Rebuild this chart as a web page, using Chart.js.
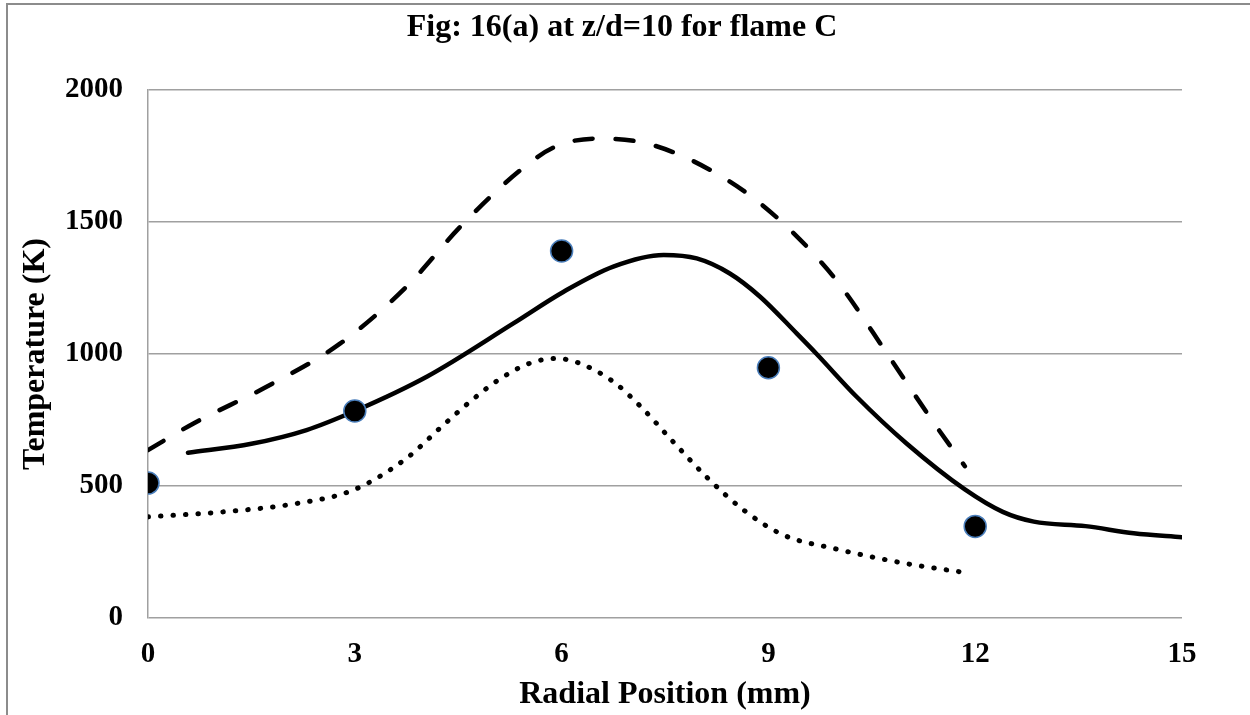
<!DOCTYPE html>
<html><head><meta charset="utf-8">
<script src="https://cdn.jsdelivr.net/npm/chart.js@4.4.0/dist/chart.umd.min.js"></script>
<style>
html,body{margin:0;padding:0;width:1250px;height:715px;overflow:hidden;background:#fff}
#frame{position:absolute;left:6px;top:3px;width:1400px;height:900px;border:2px solid #8c8c8c;box-sizing:border-box}
#wrap{position:absolute;left:0;top:0;width:1250px;height:715px}
</style></head><body>
<div id="frame"></div>
<div id="wrap"><canvas id="c" width="1250" height="715"></canvas></div>
<script>
const chartTitle = 'Fig: 16(a) at z/d=10 for flame C';
const xAxisTitle = 'Radial Position (mm)';
const yAxisTitle = 'Temperature (K)';
const xTicks = [0, 3, 6, 9, 12, 15];
const yTicks = [0, 500, 1000, 1500, 2000];

// experimental points
const expX = [0, 3, 6, 9, 12];
const expY = [511, 784, 1390, 948, 347];

// solid curve
const solidX = [0.58, 1.5, 2.3, 3, 4.05, 5.3, 6.03, 6.75, 7.48, 7.96, 8.44, 8.88, 9.41, 9.7, 10.28, 11, 11.85, 12.4, 12.85, 13.6, 14.3, 15];
const solidY = [626, 660, 712, 784, 915, 1116, 1236, 1331, 1375, 1362, 1305, 1217, 1078, 1000, 838, 662, 487, 402, 365, 348, 321, 306];

// dashed curve
const dashX = [0, 0.66, 1.72, 2.79, 3.75, 4.53, 5.4, 5.9, 6.5, 7.14, 7.67, 8.25, 8.73, 9.22, 9.65, 10.04, 10.72, 11.39, 11.85];
const dashY = [636, 737, 876, 1040, 1255, 1482, 1696, 1784, 1816, 1803, 1759, 1683, 1601, 1494, 1381, 1261, 1002, 743, 575];

// dotted curve
const dotX = [0, 1.09, 2.16, 2.98, 3.75, 4.26, 4.67, 5.08, 5.56, 5.93, 6.27, 6.75, 7.14, 7.62, 8.1, 8.64, 9.22, 9.94, 10.98, 11.85];
const dotY = [383, 402, 434, 485, 605, 725, 819, 901, 967, 983, 964, 895, 803, 667, 535, 409, 314, 264, 207, 172];

const pts = (xs, ys) => xs.map((x, i) => ({x: x, y: ys[i]}));
const FONT = "'Liberation Serif', 'Times New Roman', serif";

new Chart(document.getElementById('c'), {
  type: 'scatter',
  data: {
    datasets: [
      {label: 'Experiment', data: pts(expX, expY), order: 0, showLine: false,
       pointRadius: 11, pointHoverRadius: 11, backgroundColor: '#000', borderColor: '#4a7ebb', borderWidth: 1.5},
      {label: 'Solid', data: pts(solidX, solidY), order: 1, showLine: true, pointRadius: 0,
       borderColor: '#000', borderWidth: 4.5, cubicInterpolationMode: 'monotone', borderCapStyle: 'round'},
      {label: 'Dashed', data: pts(dashX, dashY), order: 2, showLine: true, pointRadius: 0,
       borderColor: '#000', borderWidth: 4.5, cubicInterpolationMode: 'monotone', borderDash: [18, 23], borderCapStyle: 'round'},
      {label: 'Dotted', data: pts(dotX, dotY), order: 3, showLine: true, pointRadius: 0,
       borderColor: '#000', borderWidth: 5, cubicInterpolationMode: 'monotone', borderDash: [0.5, 12], borderCapStyle: 'round'}
    ]
  },
  options: {
    responsive: false,
    animation: false,
    events: [],
    layout: {padding: {left: 62, right: 68, top: 0, bottom: 0}},
    plugins: {
      legend: {display: false},
      tooltip: {enabled: false},
      title: {display: true, text: chartTitle, color: '#000',
        font: {family: FONT, size: 32, weight: 'bold', lineHeight: 1.2},
        padding: {top: 9, bottom: 42.6}}
    },
    scales: {
      x: {
        type: 'linear', min: 0, max: 15,
        afterBuildTicks: s => { s.ticks = xTicks.map(v => ({value: v})); },
        afterFit: s => { s.height = 97; },
        grid: {display: false, drawTicks: false},
        border: {display: false},
        ticks: {color: '#000', padding: 19, maxRotation: 0, autoSkip: false,
          font: {family: FONT, size: 29, weight: 'bold'}, callback: v => String(v)},
        title: {display: true, text: xAxisTitle, color: '#000', padding: {top: 0, bottom: 1},
          font: {family: FONT, size: 32, weight: 'bold', lineHeight: 1.2}}
      },
      y: {
        type: 'linear', min: 0, max: 2000,
        afterBuildTicks: s => { s.ticks = yTicks.map(v => ({value: v})); },
        afterFit: s => { s.width = 86; },
        grid: {color: '#a0a0a0', lineWidth: 1.5, drawTicks: false},
        border: {display: true, color: '#a0a0a0', width: 1.5},
        ticks: {color: '#000', padding: 25, autoSkip: false,
          font: {family: FONT, size: 29, weight: 'bold'}, callback: v => String(v)},
        title: {display: true, text: yAxisTitle, color: '#000', padding: {top: -45, bottom: 0},
          font: {family: FONT, size: 32, weight: 'bold', lineHeight: 1.2}}
      }
    }
  }
});
</script>
</body></html>
